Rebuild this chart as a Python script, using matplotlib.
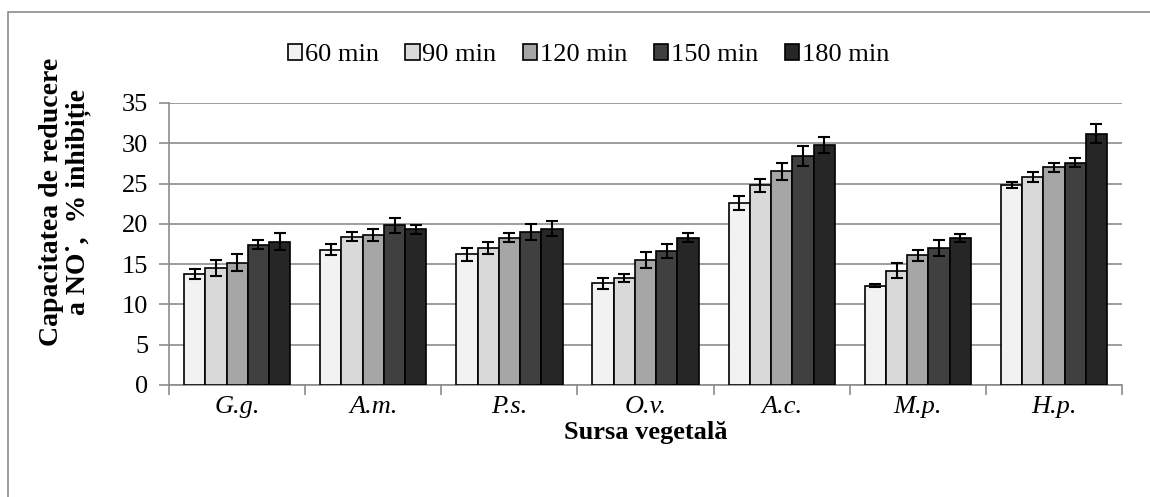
import matplotlib
matplotlib.use('Agg')
import matplotlib.pyplot as plt
import numpy as np
from matplotlib.patches import Rectangle

plt.rcParams['font.family'] = ['Liberation Serif', 'DejaVu Serif']

# Date
categorii = ['G.g.', 'A.m.', 'P.s.', 'O.v.', 'A.c.', 'M.p.', 'H.p.']
serii = ['60 min', '90 min', '120 min', '150 min', '180 min']

v60 = [13.8, 16.8, 16.2, 12.6, 22.6, 12.3, 24.8]
v90 = [14.5, 18.4, 17.0, 13.3, 24.8, 14.2, 25.8]
v120 = [15.2, 18.6, 18.3, 15.5, 26.5, 16.1, 27.0]
v150 = [17.4, 19.8, 19.0, 16.6, 28.4, 17.0, 27.6]
v180 = [17.8, 19.3, 19.4, 18.3, 29.8, 18.3, 31.2]

e60 = [0.6, 0.7, 0.8, 0.7, 0.9, 0.2, 0.4]
e90 = [0.95, 0.55, 0.8, 0.5, 0.8, 0.9, 0.6]
e120 = [1.0, 0.75, 0.55, 1.0, 1.1, 0.7, 0.6]
e150 = [0.55, 0.9, 1.0, 0.85, 1.2, 0.95, 0.6]
e180 = [1.05, 0.5, 0.9, 0.55, 1.0, 0.5, 1.2]

valori = [v60, v90, v120, v150, v180]
erori = [e60, e90, e120, e150, e180]
culori = ['#F2F2F2', '#D9D9D9', '#A6A6A6', '#404040', '#262626']

fs = 19
fig = plt.figure(figsize=(11.5, 4.97), dpi=100)
ax = fig.add_axes([0.147, 0.2254, 0.8287, 0.5674])

# chenar exterior (doar stanga si sus se vad)
fig.patches.append(Rectangle((0.007, -0.1), 1.2, 1.076, transform=fig.transFigure,
                             fill=False, edgecolor='#8c8c8c', linewidth=1.2))

x = np.arange(len(categorii))
w = 0.156
for i in range(len(serii)):
    pos = x + (i - 2) * w
    ax.bar(pos, valori[i], width=w, color=culori[i], edgecolor='black',
           linewidth=1.2, label=serii[i], zorder=3)
    ax.errorbar(pos, valori[i], yerr=erori[i], fmt='none', ecolor='black',
                elinewidth=1.5, capsize=4.5, capthick=1.5, zorder=4)

ax.set_xlim(-0.5, len(categorii) - 0.5)
ax.set_ylim(0, 35)
ax.set_yticks(range(0, 36, 5))
ax.yaxis.grid(True, color='#8c8c8c', linewidth=1.2, zorder=0)
ax.set_axisbelow(True)

ax.set_xticks(x)
ax.set_xticklabels(categorii, fontsize=fs, style='italic')
ax.set_xticks(np.arange(-0.5, len(categorii), 1), minor=True)
ax.tick_params(axis='x', which='major', length=0, pad=8)
ax.tick_params(axis='x', which='minor', length=7, color='#8c8c8c', width=1.2)
ax.tick_params(axis='y', length=7, color='#8c8c8c', width=1.2, labelsize=fs, pad=8)

for s in ['top', 'right']:
    ax.spines[s].set_visible(False)
for s in ['left', 'bottom']:
    ax.spines[s].set_color('#8c8c8c')
    ax.spines[s].set_linewidth(1.2)

ax.set_xlabel('Sursa vegetală', fontsize=fs, fontweight='bold', labelpad=2)

# titlul axei Y, pozitionat mai sus, ca in original
fig.text(0.0565, 0.594, 'Capacitatea de reducere\na NO\u02D9,  % inhibiție',
         rotation=90, ha='center', va='center', fontsize=20, fontweight='bold',
         linespacing=1.05, multialignment='center')

leg = ax.legend(loc='center', bbox_to_anchor=(0.44, 1.17), ncol=5, frameon=False,
                fontsize=fs, handlelength=0.55, handleheight=0.55, handletextpad=0.1,
                columnspacing=1.0, borderaxespad=0, borderpad=0)

fig.savefig('out.png', dpi=100)
